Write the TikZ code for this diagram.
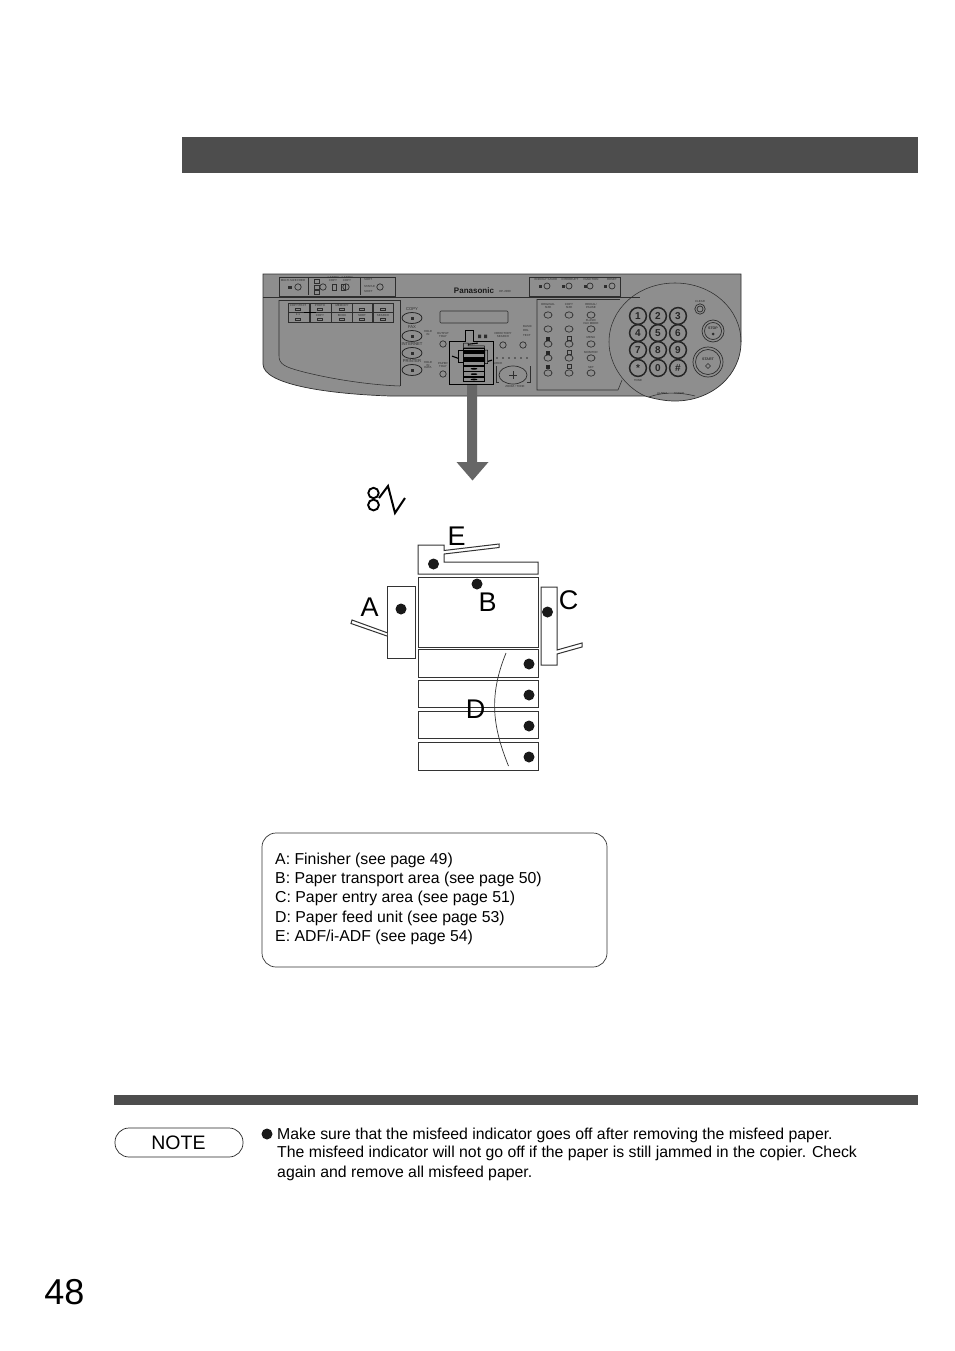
\documentclass[tikz,border=0pt]{standalone}
\usepackage{fontspec}
\setmainfont{Liberation Sans}
\usetikzlibrary{shapes.geometric}
\definecolor{barc}{HTML}{4D4D4D}
\definecolor{panelc}{HTML}{8E8E8E}
\definecolor{panelline}{HTML}{2E2E2E}
\definecolor{arrowc}{HTML}{666666}
\newcommand{\fsz}[1]{\fontsize{#1}{#1}\selectfont}
\tikzset{
  lab/.style={inner sep=0pt,font=\fsz{27}},
  body/.style={inner sep=0pt,anchor=west,font=\fsz{15.82}},
  tiny/.style={inner sep=0pt,text=panelline,font=\fsz{2.9},align=center},
  small/.style={inner sep=0pt,text=panelline,font=\fsz{4.2},align=center},
  pl/.style={draw=panelline,line width=.55pt},
  key/.style={draw=panelline,line width=.7pt},
  num/.style={draw=black!85,line width=1.5pt},
  numt/.style={inner sep=0pt,text=black!85,font=\fsz{10}\bfseries},
  part/.style={draw=black!80,line width=1pt,fill=white},
  minipart/.style={draw=black,line width=.5pt},
}
\newcommand{\copiershape}[1]{%
  \draw[#1] (418,545)--(444,545)--(444,550.5)--(499,544)--(499,547.5)--(444,554)--(444,562)--(538,562)--(538,574)--(418,574)--cycle;
  \draw[#1] (418,577) rectangle (538,647);
  \draw[#1] (418,649) rectangle (538,677);
  \draw[#1] (418,680) rectangle (538,707);
  \draw[#1] (418,711) rectangle (538,738);
  \draw[#1] (418,742) rectangle (538,770);
  \draw[#1] (387,586) rectangle (415,658);
  \draw[#1] (387,632.7)--(352,620)--(351,623.5)--(387,636);
  \draw[#1] (541,587)--(557,587)--(557,650)--(582,643)--(582,647)--(557,654)--(557,665)--(541,665)--cycle;
}
\begin{document}
\begin{tikzpicture}[x=1pt,y=-1pt,line join=miter]
\useasboundingbox (0,0) rectangle (954,1351);
\fill[white] (0,0) rectangle (954,1351);
% header and footer bars
\fill[barc] (182,137) rectangle (918,173);
\fill[barc] (114,1095) rectangle (918,1105);

% ---------- control panel ----------
\path[fill=panelc,draw=panelline,line width=.7pt]
  (263,274)--(741,274)--(741,342)
  .. controls (741,375) and (712,401) .. (675,401)
  .. controls (665,401) and (655,399) .. (645,396)
  --(390,396) .. controls (330,394) and (263,385) .. (263,364)--cycle;
\draw[pl] (263,297)--(640,297);
% the round keypad field
\draw[pl] (741,342) .. controls (741,309) and (712,283) .. (675,283)
  .. controls (638,283) and (609,309) .. (609,342)
  .. controls (609,365) and (625,387) .. (645,396);
% top left group
\draw[pl] (279,277) rectangle (395,296);
\draw[pl] (308,278)--(308,295) (360,278)--(360,295);
\foreach \x/\y in {298/287,323/287,346/287,380/287} \draw[key] (\x,\y) circle (3.2);
\node[tiny] (tmulti) at (293,281) {MULTI-SIZE FEED};
\node[tiny] (tone) at (333,279) {1-SIDED\\COPY};
\node[tiny] (ttwo) at (347,279) {2-SIDED\\COPY};
\node[tiny,anchor=west] (tsort) at (364,280) {SORT};
\node[tiny,anchor=west] (tstaple) at (364,287) {STAPLE};
\node[tiny,anchor=west] (tshift) at (364,292) {SHIFT};
\fill[panelline] (288,285.5) rectangle (292,288.5);
\foreach \y in {281,287,292} \draw[pl] (314,\y-2) rectangle (319,\y+2);
\foreach \x in {332,341}{\draw[pl] (\x,284) rectangle (\x+4,290);}
% logo and model
\node[inner sep=0pt,text=black!90,font=\fsz{8}\bfseries] (logo) at (474,291) {Panasonic};
\node[tiny] (model) at (505,292) {DP-2000};
% original-mode keys panel
\draw[pl] (279,300)--(400,300)--(400,386);
\draw[pl] (279,300)--(279,356) .. controls (279,364) and (285,367) .. (300,371)
  .. controls (330,379) and (370,385) .. (400,386);
\foreach \x in {288,310,331,352,372}{
  \draw[pl] (\x,303) rectangle (\x+21,312);
  \draw[pl] (\x,312.5) rectangle (\x+21,322);
}
\node[tiny] (k1) at (298,305.5) {COPY/TEXT};
\node[tiny] (k2) at (320,305.5) {PHOTO};
\node[tiny] (k3) at (342,305.5) {MEMORY};
\node[tiny] (k4) at (298,315) {1:1};
\node[tiny] (k5) at (320,315) {COPY};
\node[tiny] (k6) at (342,315) {BOOK};
\node[tiny] (k7) at (362,315) {SORT};
\node[tiny] (k8) at (383,315) {SEARCH};
\foreach \x in {298,320,342,362,383}{\draw[panelline,line width=.6pt] (\x-2.5,318) rectangle (\x+2.5,320.5);\draw[panelline,line width=.6pt] (\x-2.5,308) rectangle (\x+2.5,310);}
\draw[black,line width=.6pt] (304,312)--(316,312);
% mode buttons
\foreach \y/\t/\n in {318/COPY/mc,336/FAX/mf,353/INTERNET/mi,370/PRINTER/mp}{
  \draw[line width=.8pt,draw=black!85] (412,\y) ellipse (10 and 5.5);
  \fill[panelline] (410.5,\y-1.5) rectangle (413.5,\y+1.5);
  \node[small] (\n) at (412,\y-9) {\t};
}
% LCD
\draw[pl,rounded corners=1pt] (440,311) rectangle (508,323);
% tray buttons
\foreach \p in {(443,344),(443,374),(503,345),(523,345)} \draw[key] \p circle (3.2);
\node[tiny] (tout) at (443,335) {OUTPUT\\TRAY};
\node[tiny] (tpap) at (443,365) {PAPER\\TRAY};
\node[tiny] (tdir) at (503,335) {DIRECTORY\\SEARCH};
\node[tiny] (thold) at (428,333) {HOLD\\IN};
\node[tiny] (tins) at (428,365) {HOLD\\IN\\DATA};
\node[tiny,anchor=west] (tr1) at (523,326) {BASIC};
\node[tiny,anchor=west] (tr2) at (523,331) {DEL};
\node[tiny,anchor=west] (tr3) at (523,336) {TEXT};
% density row and zoom pad
\foreach \x in {497,503,509,515,521,527} \fill[panelline] (\x,358) circle (.9);
\draw[key] (513,375) ellipse (14 and 9);
\draw[pl] (513,371)--(513,379) (509,375)--(517,375);
\draw[pl] (496,366)--(496,382)--(499,382);
\draw[pl] (530,366)--(530,382)--(527,382);
\node[tiny] (tzoom) at (515,386) {ZOOM / TONE};
\node[tiny] (tsrc) at (496,363) {SOURCE};
% highlighted small copier
\draw[draw=black,line width=1pt,fill=panelc] (449,341)--(465,341)--(465,330)--(473,330)--(473,341)--(493,341)--(493,384)--(449,384)--cycle;
\fill[panelline] (478,334.5) rectangle (481,338) (484,334.5) rectangle (487,338);
\begin{scope}[shift={(474,343)},scale=.172,shift={(-478,-545)}]
  \copiershape{minipart}
  \fill[black] (418,585) rectangle (538,610);
  \fill[black] (418,625) rectangle (538,647);
  \foreach \p in {(478,695),(478,726),(478,757)} \fill[black] \p ellipse (20 and 5);
\end{scope}
% top right group
\draw[pl] (529,277) rectangle (620,296);
\foreach \x in {547,569,590,612} \draw[key] (\x,286) circle (3);
\node[tiny] (t1) at (546,279.5) {ENERGY SAVER};
\node[tiny] (t2) at (570,279.5) {INTERRUPT};
\node[tiny] (t3) at (591,279.5) {FUNCTION};
\node[tiny] (t4) at (612,279.5) {RESET};
\foreach \x in {540,563,585,605} \fill[panelline] (\x-1.5,284.5) rectangle (\x+1.5,287.5);
% right key group
\draw[pl] (537,299)--(620,299);
\draw[pl] (537,299)--(537,390)--(618,390)--(622,380);
\foreach \x in {548,569,591} \foreach \y in {315,329,344,358,373} \draw[key] (\x,\y) ellipse (4 and 3.2);
\node[tiny] (r1) at (548,306) {ORIGINAL\\SIZE};
\node[tiny] (r2) at (569,306) {COPY\\SIZE};
\node[tiny] (r3) at (591,306) {REDIAL/\\PAUSE};
\node[tiny] (r4) at (591,322) {FLASH/\\FAX MODE};
\node[tiny] (r5) at (591,338) {MENU};
\node[tiny] (r6) at (591,352) {MONITOR};
\node[tiny] (r7) at (591,367) {SET};
\foreach \y in {339,353,367} {\fill[black!85] (546,\y-2.5) rectangle (550,\y+2);\draw[panelline,line width=.5pt] (567,\y-2.5) rectangle (571,\y+1);}
% keypad
\foreach \x/\y/\t/\n in {638/316/1/n1,658/316/2/n2,678/316/3/n3,638/333/4/n4,658/333/5/n5,678/333/6/n6,638/350/7/n7,658/350/8/n8,678/350/9/n9,638/368/*/na,658/368/0/n0,678/368/{\#}/nh}{
  \draw[num] (\x,\y) circle (8.4);
  \node[numt] (\n) at (\x,\y) {\t};
}
\draw[key] (700,309) circle (5.2) (700,309) circle (3);
\node[tiny] (tclear) at (700,302) {CLEAR};
\draw[key] (713,331) circle (11) (713,331) circle (8.5);
\node[tiny,font=\fsz{3.6}\bfseries] (tstop) at (713,328) {STOP};
\fill[panelline] (713,334) circle (1.5);
\draw[key] (708,362) circle (15) (708,362) circle (12.5);
\node[tiny,font=\fsz{3.6}\bfseries] (tstart) at (708,359) {START};
\draw[panelline,line width=.5pt] (708,363.5)--(710.5,366)--(708,368.5)--(705.5,366)--cycle;
\draw[pl] (649,397) .. controls (662,392) and (680,392) .. (695,396);
\node[tiny] (talarm) at (662,393.5) {ALARM};
\node[tiny] (tactive) at (679,393.5) {ACTIVE};
\node[tiny] (ttone) at (638,380) {TONE};

% ---------- big arrow ----------
\fill[arrowc] (467,385)--(477,385)--(477,462)--(488.5,462)--(472.5,480.5)--(456.5,462)--(467,462)--cycle;

% ---------- misfeed icon ----------
\draw[black,line width=1.9pt] (373.5,493) circle (5.2) (373.5,505) circle (5.4);
\draw[black,line width=2pt] (379,498)--(388,486)--(395,513)--(405,498);

% ---------- copier diagram ----------
\copiershape{part}
\foreach \n/\x/\y in {da/401/609,de/433.5/564,db/477/584,dc/547.5/612,dd1/529/664,dd2/529/695,dd3/529/726,dd4/529/757}
  \fill[black!90] (\x,\y) circle (5.5);
\draw[black!80,line width=.7pt] (506,653) .. controls (489,695) and (492,725) .. (508.5,766);
\node[lab] (la) at (369.5,607) {A};
\node[lab] (lb) at (487.5,602) {B};
\node[lab] (lc) at (568.5,600) {C};
\node[lab] (ld) at (475.5,709) {D};
\node[lab] (le) at (456.5,536) {E};

% ---------- legend ----------
\draw[black!80,line width=.7pt,rounded corners=14pt] (262,833) rectangle (607,967);
\node[body] (l1) at (275,860.5) {A: Finisher (see page 49)};
\node[body] (l2) at (275,879.5) {B: Paper transport area (see page 50)};
\node[body] (l3) at (275,898.5) {C: Paper entry area (see page 51)};
\node[body] (l4) at (275,918.5) {D: Paper feed unit (see page 53)};
\node[body] (l5) at (275,937.5) {E: ADF/i-ADF (see page 54)};

% ---------- note ----------
\draw[black!85,line width=.7pt,rounded corners=14pt] (115,1128) rectangle (243,1157);
\node[inner sep=0pt,font=\fsz{19.5}] (note) at (178.5,1142.5) {NOTE};
\fill[black!90] (267,1134) circle (5.5);
\node[body] (n1) at (277,1135.5) {Make sure that the misfeed indicator goes off after removing the misfeed paper.};
\node[body] (n2) at (277,1153.5) {The misfeed indicator will not go off if the paper is still jammed in the copier. Check};
\node[body] (n3) at (277,1173.5) {again and remove all misfeed paper.};
\node[inner sep=0pt,font=\fsz{36}] (page) at (64.5,1292) {48};
\end{tikzpicture}
\end{document}
